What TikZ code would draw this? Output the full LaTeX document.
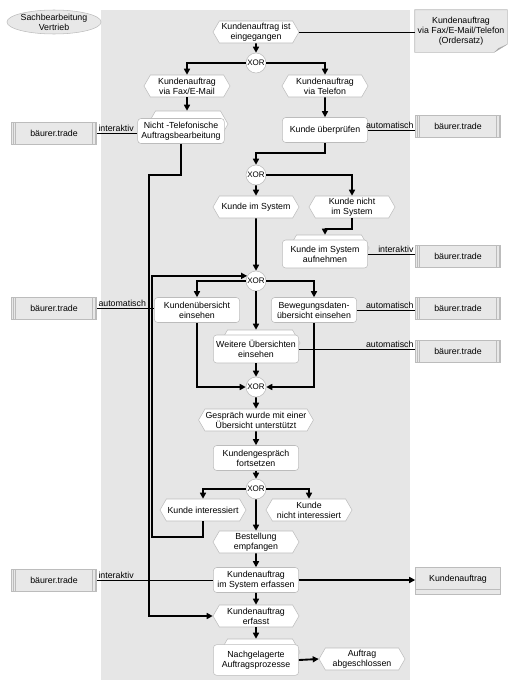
\documentclass[tikz,border=0pt]{standalone}
\usepackage{fontspec}
\setmainfont{Liberation Sans}
\usetikzlibrary{
    arrows.meta,
    positioning,
    calc,
    shapes.geometric,
    shapes.symbols,
    backgrounds
}
\definecolor{LaneGray}{RGB}{230,230,230}
\definecolor{BoxGray}{RGB}{232,232,232}
\definecolor{EdgeGray}{RGB}{188,188,188}
\definecolor{FoldGray}{RGB}{165,165,165}
\newcommand{\dfont}{\fontsize{6.6}{7.7}\selectfont}
\tikzset{
  event/.style   = {signal, signal to=west and east, signal pointer angle=120,
                    draw=EdgeGray, fill=white, minimum width=64.5pt,
                    minimum height=16.5pt, inner sep=0.5pt, align=center},
  fn/.style      = {draw=EdgeGray, fill=white, rounded corners=2.5pt,
                    minimum width=64pt, minimum height=18.75pt,
                    inner sep=0.5pt, align=center},
  stackbg/.style = {event, minimum width=60pt, minimum height=19.5pt},
  xor/.style     = {circle, draw=EdgeGray, fill=white, minimum size=15pt,
                    inner sep=0pt, font=\fontsize{6}{7}\selectfont},
  app/.style     = {draw=EdgeGray, fill=BoxGray, minimum width=63.75pt,
                    minimum height=16.5pt, inner sep=0.5pt,
                    path picture={
                      \foreach \dx in {1.3pt,3pt}{
                        \draw[EdgeGray] ([xshift=\dx]path picture bounding box.north west)
                          -- ([xshift=\dx]path picture bounding box.south west);
                        \draw[EdgeGray] ([xshift=-\dx]path picture bounding box.north east)
                          -- ([xshift=-\dx]path picture bounding box.south east);
                      }}},
  data/.style    = {draw=EdgeGray, fill=BoxGray, minimum width=63.75pt,
                    minimum height=20.25pt, text depth=4pt, inner sep=0.5pt,
                    path picture={
                      \draw[EdgeGray] ([yshift=3.75pt]path picture bounding box.south west)
                        -- ([yshift=3.75pt]path picture bounding box.south east);}},
  lane/.style    = {ellipse, draw=EdgeGray, fill=BoxGray, minimum width=63.75pt,
                    minimum height=18pt, inner sep=0pt, align=center},
  flow/.style    = {-{Triangle[length=4.5pt,width=4.5pt]}, line width=1.4pt},
  assoc/.style   = {line width=0.6pt},
  lbl/.style     = {inner sep=1pt}
}

\begin{document}
\begin{tikzpicture}[x=0.75pt, y=-0.75pt, every node/.style={font=\dfont}]
\useasboundingbox (0,0) rectangle (513,689);
% swimlane
\fill[LaneGray] (101,10) rectangle (410,680);
\node[lane] (sb) at (54,22) {Sachbearbeitung\\Vertrieb};

% start
\node[event] (start) at (256,32) {Kundenauftrag ist\\eingegangen};
\node[minimum width=69pt, minimum height=31.5pt, align=center, inner sep=1pt] (doc) at (461,31)
  {Kundenauftrag\\via Fax/E-Mail/Telefon\\(Ordersatz)};
\begin{scope}[on background layer]
\draw[fill=BoxGray, draw=EdgeGray] (doc.north west) -- (doc.north east)
  -- ($(doc.south east)+(0,-8)$) -- ($(doc.south east)+(-13,0)$) -- (doc.south west) -- cycle;
\fill[FoldGray] ($(doc.south east)+(-13,0)$) -- ($(doc.south east)+(0,-8)$)
  -- ($(doc.south east)+(-9,-4)$) -- cycle;
\end{scope}
\node[xor] (x1) at (256,63) {XOR};
\node[event] (fax) at (187,86) {Kundenauftrag\\via Fax/E-Mail};
\node[event] (tel) at (325,86) {Kundenauftrag\\via Telefon};

% second row
\node[stackbg] (ntel-b) at (188,124) {};
\node[fn, minimum width=65pt] (ntel) at (181,131) {Nicht -Telefonische\\Auftragsbearbeitung};
\node[fn] (pruef) at (325,130) {Kunde überprüfen};
\node[app] (bt1) at (54,133) {bäurer.trade};
\node[app] (bt2) at (458,126) {bäurer.trade};
\node[xor] (x2) at (256,175) {XOR};
\node[event] (kis) at (256,207) {Kunde im System};
\node[event] (knis) at (352,207) {Kunde nicht\\im System};
\node[stackbg] (aufn-b) at (329,248) {};
\node[fn, minimum height=21pt] (aufn) at (325,254) {Kunde im System\\aufnehmen};
\node[app] (bt3) at (458,256) {bäurer.trade};

% overviews
\node[xor] (x3) at (256,281) {XOR};
\node[fn] (kue) at (197,310) {Kundenübersicht\\einsehen};
\node[fn] (bew) at (314,310) {Bewegungsdaten-\\übersicht einsehen};
\node[stackbg] (weit-b) at (260,343) {};
\node[fn, minimum height=21pt] (weit) at (256,349) {Weitere Übersichten\\einsehen};
\node[app] (bt4) at (54,308) {bäurer.trade};
\node[app] (bt5) at (458,308) {bäurer.trade};
\node[app] (bt6) at (458,351) {bäurer.trade};
\node[xor] (x4) at (256,387) {XOR};
\node[event, minimum width=86pt] (gesp) at (256,420) {Gespräch wurde mit einer\\Übersicht unterstützt};
\node[fn] (kfort) at (256,458) {Kundengespräch\\fortsetzen};
\node[xor] (x5) at (256,489) {XOR};
\node[event] (kint) at (203,510) {Kunde interessiert};
\node[event] (knint) at (309,510) {Kunde\\nicht interessiert};
\node[event] (best) at (256,542) {Bestellung\\empfangen};

% order
\node[fn] (erf) at (256,580) {Kundenauftrag\\im System erfassen};
\node[data] (ka) at (458,581) {Kundenauftrag};
\node[app] (bt7) at (54,580) {bäurer.trade};
\node[event] (erfasst) at (256,616) {Kundenauftrag\\erfasst};
\node[stackbg] (nach-b) at (260,652) {};
\node[fn, minimum height=23pt] (nach) at (256,660) {Nachgelagerte\\Auftragsprozesse};
\node[event] (abg) at (362,659) {Auftrag\\abgeschlossen};

\coordinate (loopa) at (152,537);
\coordinate (loopc) at (149,175);

% control flow
\draw[flow] (start) -- (x1);
\draw[flow] (x1) -| (fax);
\draw[flow] (x1) -| (tel);
\draw[flow] (fax.south) -- (fax.south |- ntel-b.north);
\draw[flow] (tel) -- (pruef);
\draw[flow] (pruef.south) -- ++(0,10) -| (x2.north);
\draw[flow] (x2) -- (kis);
\draw[flow] (x2) -| (knis);
\draw[flow] (knis.south) -- ++(0,11) -| (aufn.north |- aufn-b.north);
\draw[flow] (kis) -- (x3);
\draw[flow] (x3) -| (kue);
\draw[flow] (x3) -| (bew);
\draw[flow] (x3) -- (x3.south |- weit-b.north);
\draw[flow] (kue) |- (x4);
\draw[flow] (bew) |- (x4);
\draw[flow] (weit) -- (x4);
\draw[flow] (x4) -- (gesp);
\draw[flow] (gesp) -- (kfort);
\draw[flow] (kfort) -- (x5);
\draw[flow] (x5) -| (kint);
\draw[flow] (x5) -| (knint);
\draw[flow] (x5) -- (best);
\draw[flow] (kint.south) |- (loopa) |- (x3.150);
\draw[flow] (ntel.south) |- (loopc) |- (erfasst.west);
\draw[flow] (best) -- (erf);
\draw[flow] (erf) -- (erfasst);
\draw[flow] (erfasst.south) -- (erfasst.south |- nach-b.north);
\draw[flow] (nach.east) -- (abg.west);
\draw[flow] (erf.east) -- (ka.west |- erf.east);

% systems and documents
\draw[assoc] (start.east) -- (start.east -| doc.west);
\draw[assoc] (bt1.east) -- (bt1.east -| ntel.west) node[pos=0, above right, lbl] (l1) {interaktiv};
\draw[assoc] (bt4.east) -- (bt4.east -| kue.west) node[pos=0, above right, lbl] (l2) {automatisch};
\draw[assoc] (bt7.east) -- (bt7.east -| erf.west) node[pos=0, above right, lbl] (l3) {interaktiv};
\draw[assoc] (pruef.east) -- (pruef.east -| bt2.west) node[pos=1, above left, lbl] (l4) {automatisch};
\draw[assoc] (aufn.east) -- (aufn.east -| bt3.west) node[pos=1, above left, lbl] (l5) {interaktiv};
\draw[assoc] (bew.east) -- (bew.east -| bt5.west) node[pos=1, above left, lbl] (l6) {automatisch};
\draw[assoc] (weit.east) -- (weit.east -| bt6.west) node[pos=1, above left, lbl] (l7) {automatisch};
\end{tikzpicture}
\end{document}
